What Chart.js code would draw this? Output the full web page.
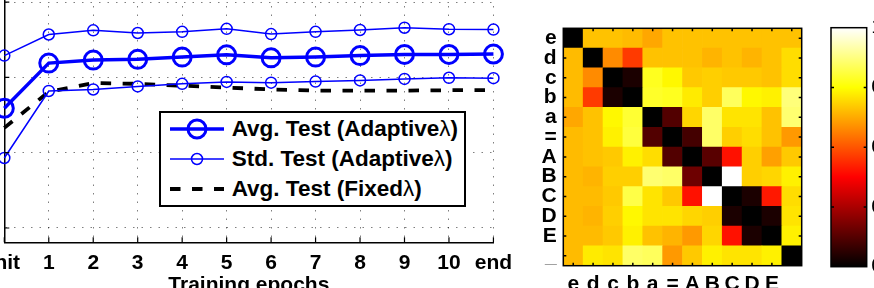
<!DOCTYPE html>
<html>
<head>
<meta charset="utf-8">
<script src="https://cdn.jsdelivr.net/npm/chart.js@4.4.1/dist/chart.umd.min.js"></script>
<style>
    html, body { margin: 0; padding: 0; background: #fff; }
    #page { position: relative; width: 874px; height: 288px; overflow: hidden; background: #fff; }
    canvas { position: absolute; }
    #epochChart { left: -100px; top: -40px; width: 620px; height: 340px; }
    #matrixChart { left: 500px; top: 0; width: 320px; height: 310px; }
    #colorBar { left: 800px; top: 0; width: 120px; height: 300px; }
    #legend {
        position: absolute; left: 159px; top: 111px; width: 307px; height: 96px;
        box-sizing: border-box; border: 2px solid #000; background: #fff;
        font-family: "Liberation Sans", Arial, Helvetica, sans-serif;
        font-weight: bold; font-size: 22.5px; color: #000;
    }
    #legend .row { position: absolute; left: 9px; height: 30px; line-height: 30px; display: flex; align-items: center; white-space: nowrap; }
    #legend svg { margin-right: 7.7px; }
    #legend .greek { font-weight: normal; }
</style>
</head>
<body>
<div id="page">
    <canvas id="epochChart" width="620" height="340"></canvas>
    <canvas id="matrixChart" width="320" height="310"></canvas>
    <canvas id="colorBar" width="120" height="300"></canvas>
    <div id="legend"></div>
</div>
<script>
// --- left panel: test accuracy per training epoch ---
const epochLabels = ["init", "1", "2", "3", "4", "5", "6", "7", "8", "9", "10", "end"];
const avgAdaptive = [85.9, 91.9, 92.3, 92.4, 92.7, 93.0, 92.6, 92.7, 92.9, 93.05, 93.05, 93.1];
const stdUpperAdaptive = [92.9, 95.7, 96.25, 95.9, 96.05, 96.45, 95.75, 96.05, 96.3, 96.6, 96.4, 96.35];
const stdLowerAdaptive = [79.3, 88.2, 88.4, 88.8, 89.15, 89.4, 89.3, 89.45, 89.6, 89.8, 89.95, 89.9];
const avgFixed = [83.3, 88.1, 89.25, 89.15, 88.9, 88.65, 88.4, 88.25, 88.25, 88.25, 88.3, 88.3];
const accuracyTicks = [70, 80, 90, 100];

// --- right panel: pairwise matrix (hot colormap, 0..1) ---
const matrixLabels = ["e", "d", "c", "b", "a", "=", "A", "B", "C", "D", "E", "_"];
const matrixValues = [
    [0.00, 0.66, 0.66, 0.65, 0.62, 0.66, 0.66, 0.66, 0.66, 0.66, 0.66, 0.66],
    [0.65, 0.00, 0.58, 0.46, 0.66, 0.66, 0.66, 0.64, 0.66, 0.64, 0.66, 0.70],
    [0.65, 0.58, 0.00, 0.04, 0.78, 0.74, 0.67, 0.68, 0.67, 0.67, 0.66, 0.70],
    [0.65, 0.46, 0.04, 0.00, 0.79, 0.78, 0.72, 0.68, 0.84, 0.74, 0.73, 0.87],
    [0.62, 0.66, 0.74, 0.80, 0.00, 0.12, 0.69, 0.85, 0.71, 0.71, 0.66, 0.86],
    [0.65, 0.66, 0.73, 0.81, 0.12, 0.00, 0.10, 0.85, 0.68, 0.70, 0.66, 0.60],
    [0.65, 0.66, 0.67, 0.73, 0.70, 0.12, 0.00, 0.13, 0.40, 0.68, 0.61, 0.67],
    [0.65, 0.64, 0.68, 0.68, 0.86, 0.85, 0.16, 0.00, 1.00, 0.68, 0.69, 0.73],
    [0.65, 0.65, 0.67, 0.82, 0.71, 0.67, 0.40, 1.00, 0.00, 0.04, 0.41, 0.70],
    [0.65, 0.64, 0.68, 0.74, 0.71, 0.71, 0.69, 0.68, 0.04, 0.00, 0.04, 0.71],
    [0.65, 0.65, 0.67, 0.73, 0.66, 0.64, 0.60, 0.69, 0.40, 0.04, 0.00, 0.73],
    [0.65, 0.72, 0.71, 0.85, 0.84, 0.60, 0.67, 0.73, 0.71, 0.71, 0.73, 0.00],
];
const colorbarTicks = [0, 0.25, 0.5, 0.75, 1];
const colorbarRange = [1];

const FONT = '"Liberation Sans", Arial, Helvetica, sans-serif';
Chart.defaults.font.family = FONT;
Chart.defaults.font.weight = "bold";
Chart.defaults.font.size = 21;
Chart.defaults.color = "#000";

const BLUE = "#0000ff";

// MATLAB "hot": black -> red -> yellow -> white
function hotColor(v) {
    const r = Math.min(1, Math.max(0, v / 0.375));
    const g = Math.min(1, Math.max(0, (v - 0.375) / 0.375));
    const b = Math.min(1, Math.max(0, (v - 0.75) / 0.25));
    return `rgb(${Math.round(r * 255)},${Math.round(g * 255)},${Math.round(b * 255)})`;
}

// inward tick marks + optional box, MATLAB style
const frameTicks = {
    id: "frameTicks",
    afterDraw(chart, args, opts) {
        const { ctx, chartArea: a } = chart;
        const len = opts.length || 4;
        ctx.save();
        ctx.strokeStyle = "#000";
        ctx.lineWidth = opts.lineWidth || 1.2;
        if (opts.box) {
            ctx.strokeRect(a.left, a.top, a.right - a.left, a.bottom - a.top);
        }
        ctx.beginPath();
        const sides = opts.sides || [];
        if (chart.scales.x && chart.scales.x.options.display !== false) {
            chart.scales.x.ticks.forEach((t, i) => {
                const px = chart.scales.x.getPixelForTick(i);
                if (sides.includes("bottom")) { ctx.moveTo(px, a.bottom); ctx.lineTo(px, a.bottom - len); }
                if (sides.includes("top")) { ctx.moveTo(px, a.top); ctx.lineTo(px, a.top + len); }
            });
        }
        chart.scales.y.ticks.forEach((t, i) => {
            const py = chart.scales.y.getPixelForTick(i);
            if (opts.skipEnds && (Math.abs(py - a.top) < 1 || Math.abs(py - a.bottom) < 1)) return;
            if (sides.includes("left")) { ctx.moveTo(a.left, py); ctx.lineTo(a.left + len, py); }
            if (sides.includes("right")) { ctx.moveTo(a.right, py); ctx.lineTo(a.right - len, py); }
        });
        ctx.stroke();
        ctx.restore();
    }
};

const dottedGrid = { color: "rgba(0,0,0,0.5)", lineWidth: 1, drawTicks: false };
const solidAxis = { display: true, color: "#000", width: 1.5, dash: [1.5, 7] };

const epochChart = new Chart(document.getElementById("epochChart"), {
    type: "line",
    data: {
        labels: epochLabels,
        datasets: [
            {
                label: "Avg. Test (Adaptive",
                data: avgAdaptive,
                borderColor: BLUE,
                borderWidth: 3.5,
                pointRadius: 9,
                pointBorderWidth: 3,
                pointBackgroundColor: "rgba(0,0,0,0)",
                pointBorderColor: BLUE,
                clip: false,
            },
            {
                label: "Std. Test (Adaptive",
                data: stdUpperAdaptive,
                borderColor: BLUE,
                borderWidth: 1.5,
                pointRadius: 5.5,
                pointBorderWidth: 1.5,
                pointBackgroundColor: "rgba(0,0,0,0)",
                pointBorderColor: BLUE,
                clip: false,
            },
            {
                label: "Std. Test (Adaptive) lower",
                data: stdLowerAdaptive,
                borderColor: BLUE,
                borderWidth: 1.5,
                pointRadius: 5.5,
                pointBorderWidth: 1.5,
                pointBackgroundColor: "rgba(0,0,0,0)",
                pointBorderColor: BLUE,
                clip: false,
            },
            {
                label: "Avg. Test (Fixed",
                data: avgFixed,
                borderColor: "#000",
                borderWidth: 3.8,
                borderDash: [10.5, 11.5],
                pointRadius: 0,
                clip: false,
            },
        ],
    },
    options: {
        responsive: false,
        animation: false,
        devicePixelRatio: 1,
        layout: { padding: { left: 104.3, right: 26.5, top: 8.1, bottom: 0 } },
        plugins: {
            legend: { display: false },
            tooltip: { enabled: false },
            frameTicks: { sides: ["bottom", "left"], length: 5 },
        },
        elements: { line: { tension: 0 } },
        scales: {
            x: {
                type: "category",
                offset: false,
                grid: dottedGrid,
                border: solidAxis,
                ticks: { padding: 7.9, autoSkip: false, maxRotation: 0 },
                title: { display: true, text: "Training epochs", padding: { top: 0, bottom: 2.6 } },
                afterFit: (s) => { s.height = 57.7; },
            },
            y: {
                type: "linear",
                min: 68.1,
                max: 104,
                afterBuildTicks: (s) => { s.ticks = accuracyTicks.map((v) => ({ value: v })); },
                ticks: { display: false },
                grid: dottedGrid,
                border: solidAxis,
                afterFit: (s) => { s.width = 0; },
            },
        },
    },
    plugins: [frameTicks],
});

// legend box (HTML, built from the dataset styles)
const legendEntries = [0, 1, 3];
document.getElementById("legend").innerHTML = legendEntries.map((idx, i) => {
    const ds = epochChart.data.datasets[idx];
    const dash = ds.borderDash ? `stroke-dasharray="${ds.borderDash.join(" ")}"` : "";
    const marker = ds.pointRadius
        ? `<circle cx="27" cy="15" r="${ds.pointRadius}" fill="none" stroke="${ds.borderColor}" stroke-width="${ds.pointBorderWidth}"/>`
        : "";
    return `<div class="row" style="top:${1.3 + i * 29.85}px">` +
        `<svg width="54" height="30"><line x1="0" y1="15" x2="54" y2="15" stroke="${ds.borderColor}" stroke-width="${ds.borderWidth}" ${dash}/>${marker}</svg>` +
        `<span>${ds.label}<span class="greek">λ</span>)</span></div>`;
}).join("");

// stacked unit bars give one cell per row/column; colour carries the value
const rowOrder = matrixLabels.map((_, r) => r).reverse();
new Chart(document.getElementById("matrixChart"), {
    type: "bar",
    data: {
        labels: matrixLabels,
        datasets: rowOrder.map((r) => ({
            label: matrixLabels[r],
            data: matrixValues[r].map(() => 1),
            backgroundColor: matrixValues[r].map(hotColor),
            borderWidth: 0,
            barPercentage: 1,
            categoryPercentage: 1,
        })),
    },
    options: {
        responsive: false,
        animation: false,
        devicePixelRatio: 1,
        layout: { padding: { left: 0, right: 18.3, top: 28.3, bottom: 0 } },
        plugins: {
            legend: { display: false },
            tooltip: { enabled: false },
            frameTicks: { box: true, sides: ["top", "bottom", "left", "right"], length: 3, lineWidth: 1.5 },
        },
        scales: {
            x: {
                stacked: true,
                grid: { display: false, drawTicks: false },
                border: { display: false },
                ticks: { padding: 6.2, autoSkip: false, maxRotation: 0 },
                afterFit: (s) => { s.height = 44.3; },
            },
            y: {
                stacked: true,
                min: 0,
                max: matrixLabels.length,
                afterBuildTicks: (s) => {
                    s.ticks = rowOrder.map((r, i) => ({ value: i + 0.5 }));
                },
                ticks: {
                    padding: 6.6,
                    autoSkip: false,
                    callback: (v) => matrixLabels[matrixLabels.length - 1 - Math.floor(v)],
                    color: (c) => (c.tick && c.tick.label === "_" ? "#8a8a8a" : "#000"),
                },
                grid: { display: false, drawTicks: false },
                border: { display: false },
                afterFit: (s) => { s.width = 63.3; },
            },
        },
    },
    plugins: [frameTicks],
});

// colour bar
new Chart(document.getElementById("colorBar"), {
    type: "bar",
    data: {
        labels: [""],
        datasets: [{
            data: colorbarRange,
            barPercentage: 1,
            categoryPercentage: 1,
            borderWidth: 0,
            backgroundColor: (c) => {
                const area = c.chart.chartArea;
                if (!area) return "#000";
                const g = c.chart.ctx.createLinearGradient(0, area.bottom, 0, area.top);
                [0, 0.375, 0.75, 1].forEach((s) => g.addColorStop(s, hotColor(s)));
                return g;
            },
        }],
    },
    options: {
        responsive: false,
        animation: false,
        devicePixelRatio: 1,
        layout: { padding: { left: 31, right: 13.3, top: 27.7, bottom: 33.3 } },
        plugins: {
            legend: { display: false },
            tooltip: { enabled: false },
            frameTicks: { box: true, sides: ["left", "right"], length: 3, lineWidth: 1.5, skipEnds: true },
        },
        scales: {
            x: { display: false },
            y: {
                position: "right",
                min: 0,
                max: 1,
                afterBuildTicks: (s) => { s.ticks = colorbarTicks.map((v) => ({ value: v })); },
                ticks: { padding: 4.5, font: { weight: "normal" } },
                grid: { display: false, drawTicks: false },
                border: { display: false },
                afterFit: (s) => { s.width = 40; },
            },
        },
    },
    plugins: [frameTicks],
});
</script>
</body>
</html>
